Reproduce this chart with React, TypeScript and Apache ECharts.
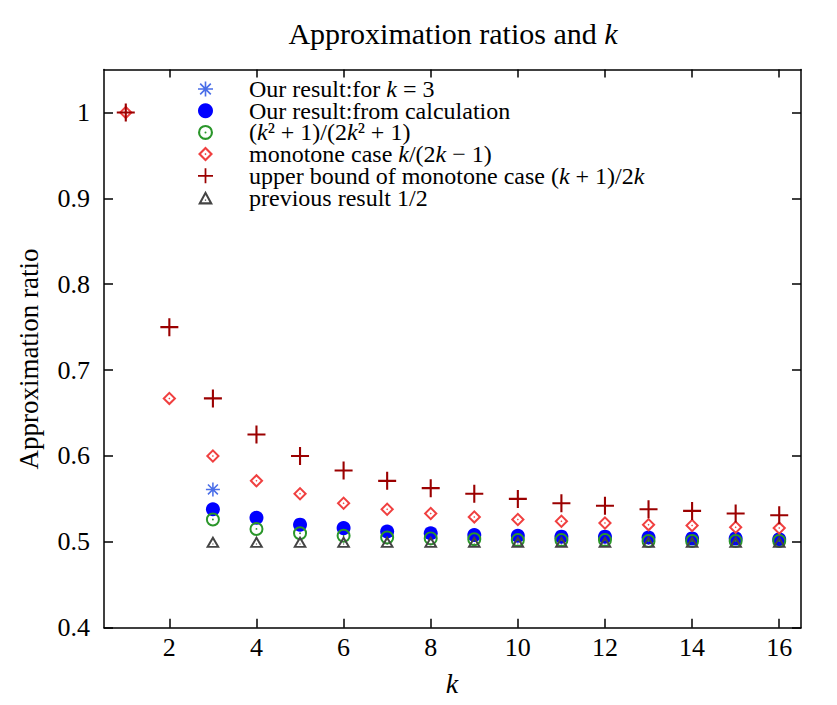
import React, { useEffect, useRef } from "react";
import * as echarts from "echarts";

const kAll = [1, 2, 3, 4, 5, 6, 7, 8, 9, 10, 11, 12, 13, 14, 15, 16];
const kFrom3 = [3, 4, 5, 6, 7, 8, 9, 10, 11, 12, 13, 14, 15, 16];
const ourK3X = [3];
const ourK3Y = [0.561];
const ourCalc = [0.538, 0.528, 0.52, 0.516, 0.512, 0.51, 0.508, 0.507, 0.506, 0.506, 0.505, 0.504, 0.504, 0.503];
const kSquared = [0.526, 0.515, 0.51, 0.507, 0.505, 0.504, 0.503, 0.502, 0.502, 0.502, 0.501, 0.501, 0.501, 0.501];
const monotone = [1, 0.667, 0.6, 0.571, 0.556, 0.545, 0.538, 0.533, 0.529, 0.526, 0.524, 0.522, 0.52, 0.519, 0.517, 0.516];
const upperBound = [1, 0.75, 0.667, 0.625, 0.6, 0.583, 0.571, 0.5625, 0.556, 0.55, 0.545, 0.542, 0.538, 0.536, 0.533, 0.531];
const previous = [0.5, 0.5, 0.5, 0.5, 0.5, 0.5, 0.5, 0.5, 0.5, 0.5, 0.5, 0.5, 0.5, 0.5];
const xTicks = [2, 4, 6, 8, 10, 12, 14, 16];
const yTicks = [0.4, 0.5, 0.6, 0.7, 0.8, 0.9, 1];

const seriesNames = [
  "Our result:for k = 3",
  "Our result:from calculation",
  "(k^2+1)/(2k^2+1)",
  "monotone case k/(2k-1)",
  "upper bound of monotone case (k+1)/2k",
  "previous result 1/2",
];
const legendRich: Record<string, string> = {
  [seriesNames[0]]: "{p| }{n|Our result:for }{i|k}{n| = 3}",
  [seriesNames[1]]: "{p| }{n|Our result:from calculation}",
  [seriesNames[2]]: "{p| }{n|(}{i|k}{n|² + 1)/(2}{i|k}{n|² + 1)}",
  [seriesNames[3]]: "{p| }{n|monotone case }{i|k}{n|/(2}{i|k}{n| − 1)}",
  [seriesNames[4]]: "{p| }{n|upper bound of monotone case (}{i|k}{n| + 1)/2}{i|k}",
  [seriesNames[5]]: "{p| }{n|previous result 1/2}",
};

const FONT = "Liberation Serif";

const STAR =
  "path://M0,10.7 H24 V13.3 H0 Z M10.7,0 H13.3 V24 H10.7 Z M2.58,4.42 L4.42,2.58 L21.42,19.58 L19.58,21.42 Z M19.58,2.58 L21.42,4.42 L4.42,21.42 L2.58,19.58 Z";
const RING =
  "path://M0,12 A12,12 0 1,1 24,12 A12,12 0 1,1 0,12 Z M3.4,12 A8.6,8.6 0 1,0 20.6,12 A8.6,8.6 0 1,0 3.4,12 Z M10.4,12 A1.6,1.6 0 1,1 13.6,12 A1.6,1.6 0 1,1 10.4,12 Z";
const DIAMOND =
  "path://M12,0 L24,12 L12,24 L0,12 Z M12,4.8 L4.8,12 L12,19.2 L19.2,12 Z M12,10.3 L13.7,12 L12,13.7 L10.3,12 Z";
const PLUS = "path://M10.6,0 H13.4 V10.6 H24 V13.4 H13.4 V24 H10.6 V13.4 H0 V10.6 H10.6 Z";
const TRIANGLE = "path://M12,0 L24,22 L0,22 Z M12,7.1 L5.73,18.6 L18.27,18.6 Z M11,14 H13 V16 H11 Z";

function pairs(xs: number[], ys: number[]) {
  return xs.map((x, i) => [x, ys[i]]);
}

export default function App() {
  const ref = useRef<HTMLDivElement>(null);
  useEffect(() => {
    if (!ref.current) return;
    const chart = echarts.init(ref.current, null, { renderer: "svg" });
    const axisLine = { show: true, lineStyle: { color: "#000", width: 1.5 } };
    const tickStyle = { color: "#000", width: 1.5 };
    chart.setOption({
      animation: false,
      backgroundColor: "#fff",
      grid: { left: 104, right: 36, top: 69.5, bottom: 77.3, containLabel: false },
      graphic: [
        {
          type: "text",
          x: 453,
          y: 33,
          style: {
            text: "{n|Approximation ratios and }{i|k}",
            align: "center",
            verticalAlign: "middle",
            rich: {
              n: { fontFamily: FONT, fontSize: 30, fill: "#000" },
              i: { fontFamily: FONT, fontSize: 30, fontStyle: "italic", fill: "#000" },
            },
          },
        },
        {
          type: "text",
          x: 452,
          y: 683,
          style: {
            text: "k",
            align: "center",
            verticalAlign: "middle",
            fontFamily: FONT,
            fontSize: 28,
            fontStyle: "italic",
            fill: "#000",
          },
        },
        {
          type: "text",
          x: 29,
          y: 359,
          rotation: Math.PI / 2,
          style: {
            text: "Approximation ratio",
            align: "center",
            verticalAlign: "middle",
            fontFamily: FONT,
            fontSize: 27,
            fill: "#000",
          },
        },
      ],
      legend: {
        orient: "vertical",
        left: 193,
        top: 72,
        itemGap: -2.3,
        itemWidth: 15,
        itemHeight: 15,
        selectedMode: false,
        data: seriesNames,
        formatter: (name: string) => legendRich[name],
        textStyle: {
          fontFamily: FONT,
          fontSize: 24,
          lineHeight: 21.7,
          color: "#000",
          rich: {
            p: { width: 31, fontSize: 24, lineHeight: 21.7 },
            n: { fontFamily: FONT, fontSize: 24, lineHeight: 21.7, color: "#000" },
            i: { fontFamily: FONT, fontSize: 24, lineHeight: 21.7, fontStyle: "italic", color: "#000" },
          },
        },
      },
      xAxis: [
        {
          type: "value",
          min: 0.5,
          max: 16.5,
          position: "bottom",
          axisLine,
          splitLine: { show: false },
          axisTick: { show: true, inside: true, length: 9, lineStyle: tickStyle, customValues: xTicks },
          axisLabel: {
            show: true,
            customValues: xTicks,
            margin: 7,
            fontFamily: FONT,
            fontSize: 26,
            color: "#000",
            formatter: (v: number) => String(v),
          },
        },
        {
          type: "value",
          min: 0.5,
          max: 16.5,
          position: "top",
          axisLine,
          splitLine: { show: false },
          axisTick: { show: true, inside: true, length: 8, lineStyle: tickStyle, customValues: xTicks },
          axisLabel: { show: false },
        },
      ],
      yAxis: [
        {
          type: "value",
          min: 0.4,
          max: 1.05,
          position: "left",
          axisLine,
          splitLine: { show: false },
          axisTick: { show: true, inside: true, length: 9, lineStyle: tickStyle, customValues: yTicks },
          axisLabel: {
            show: true,
            customValues: yTicks,
            margin: 14,
            fontFamily: FONT,
            fontSize: 26,
            color: "#000",
            formatter: (v: number) => String(v),
          },
        },
        {
          type: "value",
          min: 0.4,
          max: 1.05,
          position: "right",
          axisLine,
          splitLine: { show: false },
          axisTick: { show: true, inside: true, length: 9, lineStyle: tickStyle, customValues: yTicks },
          axisLabel: { show: false },
        },
      ],
      series: [
        {
          name: seriesNames[0],
          type: "scatter",
          symbol: STAR,
          symbolSize: 14,
          itemStyle: { color: "#4a6ee8", opacity: 1 },
          data: pairs(ourK3X, ourK3Y),
        },
        {
          name: seriesNames[1],
          type: "scatter",
          symbol: "circle",
          symbolSize: 14,
          itemStyle: { color: "#0000ff", opacity: 1 },
          data: pairs(kFrom3, ourCalc),
        },
        {
          name: seriesNames[2],
          type: "scatter",
          symbol: RING,
          symbolSize: 14,
          itemStyle: { color: "#2a962a", opacity: 1 },
          data: pairs(kFrom3, kSquared),
        },
        {
          name: seriesNames[3],
          type: "scatter",
          symbol: DIAMOND,
          symbolSize: 14,
          itemStyle: { color: "#f04040", opacity: 1 },
          data: pairs(kAll, monotone),
        },
        {
          name: seriesNames[4],
          type: "scatter",
          symbol: PLUS,
          symbolSize: 18,
          itemStyle: { color: "#9b0000", opacity: 1 },
          data: pairs(kAll, upperBound),
        },
        {
          name: seriesNames[5],
          type: "scatter",
          symbol: TRIANGLE,
          symbolSize: [14, 12],
          itemStyle: { color: "#444444", opacity: 1 },
          data: pairs(kFrom3, previous),
        },
      ],
    });
    return () => chart.dispose();
  }, []);
  return (
    <div
      ref={ref}
      style={{ position: "fixed", left: 0, top: 0, width: 837, height: 705, background: "#fff" }}
    />
  );
}
